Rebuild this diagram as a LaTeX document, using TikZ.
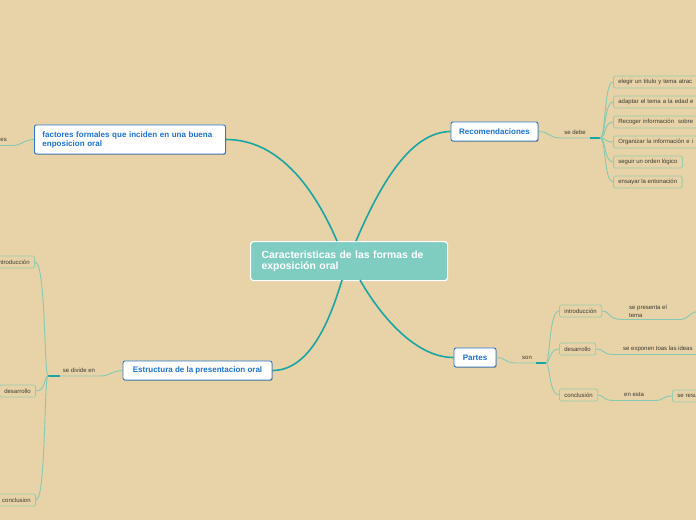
\documentclass[tikz,border=0pt]{standalone}
\usepackage{fontspec}
\setmainfont{Liberation Sans}
\usetikzlibrary{shadows}
\definecolor{bg}{HTML}{E8D3A8}
\definecolor{cenfill}{HTML}{7FCDC1}
\definecolor{mainline}{HTML}{19A5A3}
\definecolor{thinline}{HTML}{85CAB3}
\definecolor{boxline}{HTML}{97CDA8}
\definecolor{bluebd}{HTML}{2A7CD0}
\definecolor{bluetx}{HTML}{1C72D6}
\definecolor{smalltx}{HTML}{3A3A30}
\begin{document}
\begin{tikzpicture}[x=1pt,y=-1pt,
 central/.style={fill=cenfill, draw=white, line width=1.2pt, rounded corners=3pt, text=white,
   font=\bfseries\fontsize{10.4}{11.5}\selectfont, text width=175pt, align=left,
   inner xsep=11pt, inner ysep=0pt, minimum height=39pt},
 mainbox/.style={draw=bluebd, fill=white, line width=0.9pt, rounded corners=2pt, text=bluetx,
   font=\bfseries\fontsize{8}{9.5}\selectfont, minimum height=19pt, inner sep=0pt,
   drop shadow={shadow xshift=0.6pt, shadow yshift=-0.8pt, opacity=0.3, fill=black}},
 leaf/.style={draw=boxline, fill=bg, line width=0.8pt, rounded corners=1.5pt, text=smalltx,
   font=\fontsize{6}{7}\selectfont, minimum height=12pt, inner xsep=5pt, inner ysep=0pt},
 longleaf/.style={leaf, text width=100pt, align=left},
 lbl/.style={text=smalltx, font=\fontsize{6}{8}\selectfont, inner sep=0pt},
 big/.style={draw=mainline, line width=1.6pt},
 link/.style={draw=thinline, line width=0.9pt},
 junc/.style={draw=mainline, line width=1.3pt}]

\useasboundingbox (0,0) rectangle (696,520);
\fill[bg] (0,0) rectangle (696,520);
\clip (0,0) rectangle (696,520);

% main nodes
\node[central, anchor=north west] (cen) at (250,241) {Caracteristicas de las formas de\\exposición oral};
\node[mainbox, minimum width=87pt] (rec) at (494.5,131.5) {Recomendaciones};
\node[mainbox, anchor=west, text width=175pt, align=left, inner xsep=8pt, minimum height=29pt,
  font=\bfseries\fontsize{8}{9}\selectfont] (fac) at (34,139.5) {factores formales que inciden en una buena\\enposicion oral};
\node[mainbox, minimum width=149pt] (est) at (197.5,370.5) {Estructura de la presentacion oral};
\node[mainbox, minimum width=42pt] (par) at (475,357.5) {Partes};

% central connectors
\coordinate (cR) at (356,241);
\coordinate (cF) at (337,241);
\coordinate (cE) at (342,280);
\coordinate (cP) at (360,280);
\draw[big] (cR) .. controls (380,185) and (410,132) .. (rec.west);
\draw[big] (cF) .. controls (315,190) and (280,139.5) .. (fac.east);
\draw[big] (cE) .. controls (330,320) and (310,370.5) .. (est.east);
\draw[big] (cP) .. controls (380,315) and (415,357.5) .. (par.west);

% Recomendaciones subtree
\node[lbl] (lsd) at (575,132.5) {se debe};
\coordinate (rj) at (600,138);
\draw[link] (rec.east) .. controls (550,131.5) and (548,138) .. (562,138) -- (rj);
\draw[junc] (590,138) -- (rj);
\node[longleaf, anchor=west] (r1) at (613,82) {elegir un titulo y tema atrac};
\node[longleaf, anchor=west] (r2) at (613,102) {adaptar el tema a la edad e};
\node[longleaf, anchor=west] (r3) at (613,122) {Recoger información\ \ sobre};
\node[longleaf, anchor=west] (r4) at (613,142) {Organizar la información e i};
\node[leaf, anchor=west] (r5) at (613,162) {seguir un orden lógico};
\node[leaf, anchor=west] (r6) at (613,182) {ensayar la entonación};
\foreach \k/\yy in {r1/82,r2/102,r3/122,r4/142,r5/162,r6/182}{
  \draw[link] (rj) .. controls (606,138) and (604,\yy) .. (\k.west);
}

% Partes subtree
\node[lbl] (lson) at (527,357.5) {son};
\coordinate (pj) at (546,363);
\draw[link] (par.east) .. controls (506,357.5) and (504,363) .. (516,363) -- (pj);
\draw[junc] (536,363) -- (pj);
\node[leaf, anchor=west] (pi) at (559,311) {introducción};
\node[leaf, anchor=west] (pd) at (559,349) {desarrollo};
\node[leaf, anchor=west] (pc) at (559,395) {conclusión};
\foreach \k/\yy in {pi/311,pd/349,pc/395}{
  \draw[link] (pj) .. controls (550,363) and (549,\yy) .. (\k.west);
}
\coordinate (po1) at (702,311);
\node[lbl, anchor=west, align=left] (lpres) at (629,311) {se presenta el\\tema};
\draw[link] (pi.east) .. controls (610,311) and (608,319.5) .. (622,319.5) -- (680,319.5)
  .. controls (690,319.5) and (688,311) .. (po1);
\coordinate (po2) at (702,354.5);
\node[lbl, anchor=west] (lexp) at (623,349) {se exponen toas las ideas};
\draw[link] (pd.east) .. controls (604,349) and (602,354.5) .. (614,354.5) -- (po2);
\node[lbl, anchor=west] (lesta) at (624,395) {en esta};
\node[leaf, anchor=west, text width=40pt, align=left] (pr) at (672,396) {se resu};
\draw[link] (pc.east) .. controls (604,395) and (602,400.5) .. (614,400.5) -- (655,400.5)
  .. controls (664,400.5) and (662,396) .. (pr.west);

% Estructura subtree
\node[lbl] (ldiv) at (79,370) {se divide en};
\coordinate (ej) at (48,376);
\draw[link] (est.west) .. controls (113,370.5) and (110,376) .. (100,376) -- (ej);
\draw[junc] (ej) -- (60,376);
\node[leaf, anchor=east] (ei) at (35,262) {introducción};
\node[leaf, anchor=east] (ed) at (36,391) {desarrollo};
\node[leaf, anchor=east] (ec) at (36,500) {conclusion};
\foreach \k/\yy in {ei/262,ed/391,ec/500}{
  \draw[link] (ej) .. controls (44,376) and (46,\yy) .. (\k.east);
}

% factores subtree
\node[lbl, anchor=east] (les) at (7,140) {es};
\coordinate (fo) at (-6,145.5);
\draw[link] (fac.west) .. controls (24,139.5) and (22,145.5) .. (12,145.5) -- (fo);
\end{tikzpicture}
\end{document}
